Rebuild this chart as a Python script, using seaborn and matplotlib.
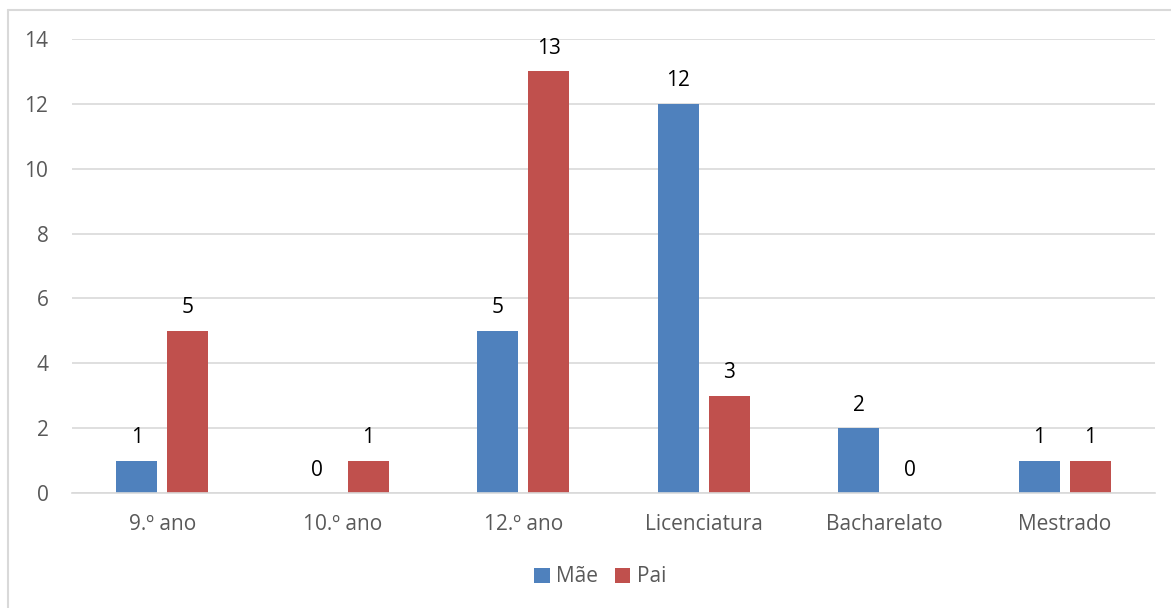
import matplotlib
matplotlib.use("Agg")
import matplotlib.pyplot as plt
from matplotlib.lines import Line2D
from matplotlib.patches import Patch
import pandas as pd
import seaborn as sns

# Education level of each parent
categories = ["9.º ano", "10.º ano", "12.º ano", "Licenciatura", "Bacharelato", "Mestrado"]
mae = [1, 0, 5, 12, 2, 1]
pai = [5, 1, 13, 3, 0, 1]
series_names = ["Mãe", "Pai"]
colors = ["#4F81BD", "#C0504D"]
y_ticks = [0, 2, 4, 6, 8, 10, 12, 14]

df = pd.DataFrame({
    "categoria": categories * 2,
    "valor": mae + pai,
    "progenitor": [series_names[0]] * len(categories) + [series_names[1]] * len(categories),
})

sns.set_theme(style="white")
plt.rcParams["font.family"] = ["Open Sans", "DejaVu Sans"]

W, H = 1171, 608
fig = plt.figure(figsize=(W / 100, H / 100), dpi=100)
ax = fig.add_axes([72 / W, 1 - 493 / H, (1155 - 72) / W, (493 - 39) / H])

sns.barplot(data=df, x="categoria", y="valor", hue="progenitor",
            order=categories, hue_order=series_names, palette=colors,
            width=0.565, gap=0.2, saturation=1, legend=False, ax=ax,
            errorbar=None, linewidth=0, edgecolor="none")

ax.set_ylim(0, 14)
ax.set_xlim(-0.5, len(categories) - 0.5)
ax.set_yticks(y_ticks)
ax.set_yticklabels([str(t) for t in y_ticks])
ax.yaxis.grid(True, color="#D9D9D9", linewidth=1.2)
ax.set_axisbelow(True)
for side in ["top", "right", "left"]:
    ax.spines[side].set_visible(False)
ax.spines["bottom"].set_color("#D9D9D9")
ax.spines["bottom"].set_linewidth(1.2)
ax.tick_params(axis="both", length=0, labelsize=15, labelcolor="#595959")
ax.tick_params(axis="y", pad=17)
ax.tick_params(axis="x", pad=15)
ax.set_xlabel("")
ax.set_ylabel("")

for cont in ax.containers:
    ax.bar_label(cont, labels=[f"{int(v)}" for v in cont.datavalues],
                 padding=9, fontsize=15, color="#000000")

handles = [Patch(facecolor=c, edgecolor="none") for c in colors]
fig.legend(handles, series_names, loc="center", bbox_to_anchor=(600 / W, 1 - 577 / H),
           ncol=2, frameon=False, fontsize=15, labelcolor="#595959",
           handlelength=0.75, handleheight=0.75, handletextpad=0.3, columnspacing=0.8)

# Chart frame (top and left edges)
fig.add_artist(Line2D([7.5 / W, 7.5 / W], [0, 1 - 9.5 / H], color="#D9D9D9", linewidth=1.5))
fig.add_artist(Line2D([7.5 / W, 1], [1 - 9.5 / H, 1 - 9.5 / H], color="#D9D9D9", linewidth=1.5))

fig.savefig("out.png", dpi=100, facecolor="white")
